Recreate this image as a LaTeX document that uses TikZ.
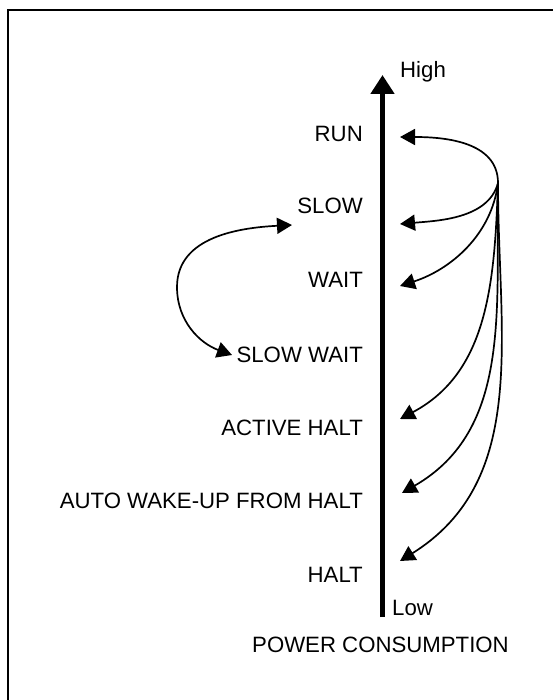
\documentclass[tikz,border=0pt]{standalone}
\usepackage{fontspec}
\setmainfont{Liberation Sans}
\usetikzlibrary{arrows.meta}
\begin{document}
\begin{tikzpicture}[x=1pt,y=-1pt,
  lbl/.style={anchor=base east,inner sep=0pt,font=\fontsize{22.2}{25}\selectfont},
  txt/.style={anchor=base west,inner sep=0pt,font=\fontsize{22.2}{25}\selectfont},
  curve/.style={line width=1.7pt,-{Triangle[length=15pt,width=16pt]}},
  dcurve/.style={line width=1.7pt,{Triangle[length=15pt,width=16pt]}-{Triangle[length=15pt,width=16pt]}},
  axis/.style={line width=5pt,-{Triangle[length=19pt,width=23pt]}}]
\useasboundingbox (0,0) rectangle (552,700);
\draw[line width=2.8pt] (8,720) -- (8,10) -- (570,10);
% axis
\coordinate (lo) at (382.5,617);
\coordinate (hi) at (382.5,75);
\draw[axis] (lo) -- (hi);
\node[txt] (high) at (400,78) {High};
\node[txt] (low) at (392,615) {Low};
\node[txt] (pc) at (252,652) {POWER CONSUMPTION};
% labels
\node[lbl] (run) at (363,142) {RUN};
\node[lbl] (slow) at (363,214) {SLOW};
\node[lbl] (wait) at (363,287) {WAIT};
\node[lbl] (swait) at (363,362) {SLOW WAIT};
\node[lbl] (ahalt) at (363,435) {ACTIVE HALT};
\node[lbl] (awu) at (363,508) {AUTO WAKE-UP FROM HALT};
\node[lbl] (halt) at (363,582) {HALT};
% arrow tips
\coordinate (src) at (498,183);
\coordinate (trun) at (400,137);
\coordinate (tslow) at (400,224);
\coordinate (twait) at (400,286);
\coordinate (tahalt) at (400,419);
\coordinate (tawu) at (402,493);
\coordinate (thalt) at (400,561);
\coordinate (lslow) at (292,225);
\coordinate (lswait) at (232,355);
\coordinate (lmid) at (177,287);
\draw[curve] (src) to[out=90,in=0,looseness=1] (trun);
\draw[curve] (src) to[out=-105,in=5,looseness=0.9] (tslow);
\draw[curve] (src) to[out=-97,in=18,looseness=0.95] (twait);
\draw[curve] (src) to[out=-92,in=28,looseness=1] (tahalt);
\draw[curve] (src) to[out=-91,in=30,looseness=1] (tawu);
\draw[curve] (src) to[out=-90,in=32,looseness=1] (thalt);
\draw[dcurve] (lslow) to[out=183,in=90] (lmid) to[out=-90,in=160] (lswait);
\end{tikzpicture}
\end{document}
